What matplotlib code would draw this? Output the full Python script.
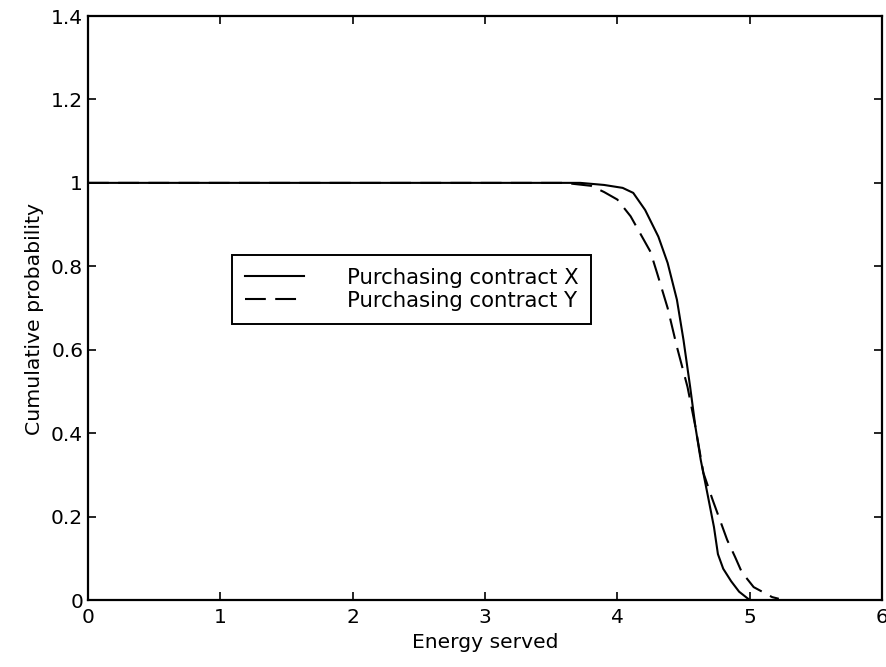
import numpy as np
import matplotlib.pyplot as plt

plt.rcParams['font.family'] = ['DejaVu Sans']

# values
energy_x = [0.0, 3.0, 3.72, 3.9, 4.04, 4.12, 4.21, 4.31, 4.38, 4.45, 4.50, 4.55,
            4.59, 4.63, 4.68, 4.73, 4.76, 4.80, 4.86, 4.92, 4.98, 5.0]
prob_x = [1.0, 1.0, 1.0, 0.995, 0.988, 0.976, 0.935, 0.871, 0.808, 0.72, 0.623, 0.511,
          0.415, 0.336, 0.256, 0.175, 0.110, 0.075, 0.045, 0.020, 0.005, 0.0]

energy_y = [0.0, 3.0, 3.6, 3.8, 3.9, 4.0, 4.10, 4.25, 4.30, 4.38, 4.45, 4.53, 4.59,
            4.65, 4.72, 4.83, 4.89, 4.94, 5.03, 5.17, 5.22]
prob_y = [1.0, 1.0, 1.0, 0.993, 0.978, 0.96, 0.92, 0.835, 0.784, 0.70, 0.607, 0.511,
          0.415, 0.305, 0.24, 0.144, 0.103, 0.067, 0.031, 0.007, 0.003]

labels = ['Purchasing contract X', 'Purchasing contract Y']

fig = plt.figure(figsize=(8.87, 6.67), dpi=100)
ax = fig.add_axes([0.0992, 0.1004, 0.8952, 0.8756])

ax.plot(energy_x, prob_x, color='black', lw=1.5, label=labels[0])
ax.plot(energy_y, prob_y, color='black', lw=1.5, linestyle=(0, (10, 4.5)), label=labels[1])

ax.set_xlim(0, 6)
ax.set_ylim(0, 1.4)
ax.set_xticks(np.arange(0, 7, 1))
ax.set_yticks(np.arange(0, 1.41, 0.2))
ax.set_xticklabels(['0', '1', '2', '3', '4', '5', '6'])
ax.set_yticklabels(['0', '0.2', '0.4', '0.6', '0.8', '1', '1.2', '1.4'])
ax.tick_params(direction='in', top=True, right=True, length=6, width=1.2,
               labelsize=14.5)
ax.tick_params(axis='x', pad=6)
ax.tick_params(axis='y', pad=3.5)
for sp in ax.spines.values():
    sp.set_linewidth(1.6)

ax.set_xlabel('Energy served', fontsize=14.6, labelpad=4)
ax.set_ylabel('Cumulative probability', fontsize=14.7, labelpad=5)
ax.yaxis.label.set_y(0.481)

leg = ax.legend(loc='upper left', bbox_to_anchor=(0.1814, 0.5908), fontsize=15.3,
                frameon=True, fancybox=False, edgecolor='black', framealpha=1,
                handlelength=2.8, handletextpad=2.0, borderpad=0.6,
                labelspacing=0.15, borderaxespad=0)
leg.get_frame().set_linewidth(1.4)

fig.savefig('out.png', dpi=100)
